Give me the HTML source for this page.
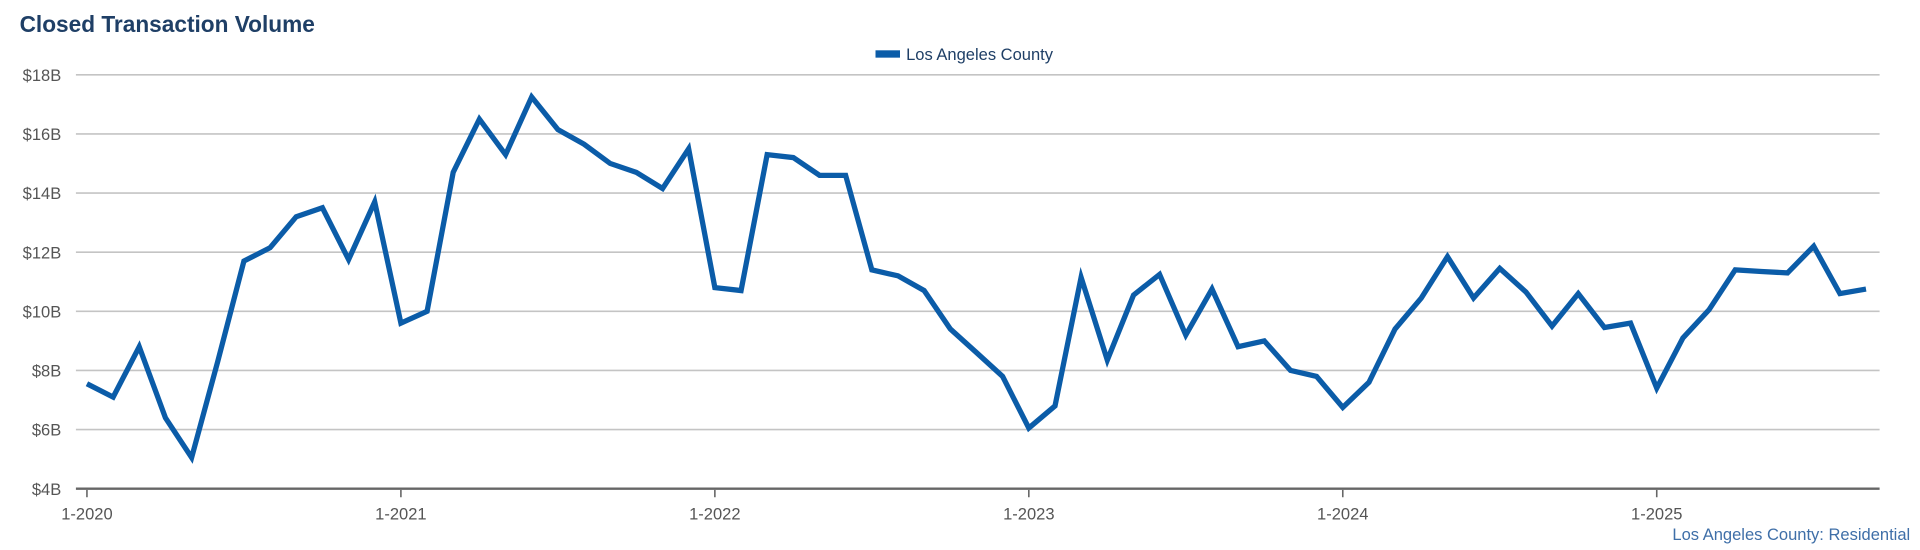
<!DOCTYPE html>
<html><head><meta charset="utf-8"><style>
html,body{margin:0;padding:0;background:#fff;width:1920px;height:550px;overflow:hidden}
svg{display:block;font-family:"Liberation Sans",Arial,sans-serif}
</style></head><body>
<svg id="chart" width="1920" height="550" viewBox="0 0 1568 449">
<text x="16" y="26" font-size="18.5" font-weight="bold" fill="#1f3f66">Closed Transaction Volume</text>
<g>
<rect x="715" y="41" width="20" height="6" fill="#0b5ca8"/>
<text x="740" y="49" font-size="13.5" fill="#1f3f66">Los Angeles County</text>
</g>
<g id="grid"></g><g id="xaxis"></g>
<path id="line" fill="none" stroke="#0b5ca8" stroke-width="4.3" stroke-linejoin="miter" stroke-linecap="butt"/>
<text x="1560" y="441" font-size="13.5" fill="#3f6fa8" text-anchor="end">Los Angeles County: Residential</text>
</svg>
<script>
const yTicks=[4,6,8,10,12,14,16,18];
const yTickLabels=["$4B","$6B","$8B","$10B","$12B","$14B","$16B","$18B"];
const xTickLabels=["1-2020","1-2021","1-2022","1-2023","1-2024","1-2025"];
const startYear=2020;
const values=[7.55,7.1,8.8,6.4,5.05,8.3,11.7,12.15,13.2,13.5,11.75,13.7,
9.6,10.0,14.7,16.5,15.3,17.25,16.15,15.65,15.0,14.7,14.15,15.5,
10.8,10.7,15.3,15.2,14.6,14.6,11.4,11.2,10.7,9.4,8.6,7.8,
6.05,6.8,11.15,8.35,10.55,11.25,9.2,10.75,8.8,9.0,8.0,7.8,
6.75,7.6,9.4,10.45,11.85,10.45,11.45,10.65,9.5,10.6,9.45,9.6,
7.4,9.1,10.05,11.4,11.35,11.3,12.2,10.6,10.75];
const NS="http://www.w3.org/2000/svg";
const x=i=>71+i*(256.4/12);
const y=v=>399-(v-4)*(338/14);
const grid=document.getElementById('grid'),xa=document.getElementById('xaxis');
yTicks.forEach((t,i)=>{
 const l=document.createElementNS(NS,'line');
 
 
 l.setAttribute('x1',62);l.setAttribute('x2',1535);l.setAttribute('y1',y(t));l.setAttribute('y2',y(t));
 l.setAttribute('stroke',i===0?'#666':'#c4c4c4');l.setAttribute('stroke-width',i===0?2:1.3);
 grid.appendChild(l);
 const tx=document.createElementNS(NS,'text');
 
 
 tx.setAttribute('x',50);tx.setAttribute('y',y(t)+5);tx.setAttribute('text-anchor','end');
 tx.setAttribute('font-size','13.5');tx.setAttribute('fill','#555');tx.textContent=yTickLabels[i];
 grid.appendChild(tx);
});
xTickLabels.forEach((lab,i)=>{
 const px=x(i*12);
 const l=document.createElementNS(NS,'line');
 
 
 l.setAttribute('x1',px);l.setAttribute('x2',px);l.setAttribute('y1',400);l.setAttribute('y2',406);
 l.setAttribute('stroke','#666');l.setAttribute('stroke-width',1.3);xa.appendChild(l);
 const tx=document.createElementNS(NS,'text');
 
 
 tx.setAttribute('x',px);tx.setAttribute('y',424);tx.setAttribute('text-anchor','middle');
 tx.setAttribute('font-size','13.5');tx.setAttribute('fill','#555');tx.textContent=lab;
 xa.appendChild(tx);
});
document.getElementById('line').setAttribute('d',values.map((v,i)=>(i?'L':'M')+x(i).toFixed(1)+' '+y(v).toFixed(1)).join(' '));
</script>
</body></html>
